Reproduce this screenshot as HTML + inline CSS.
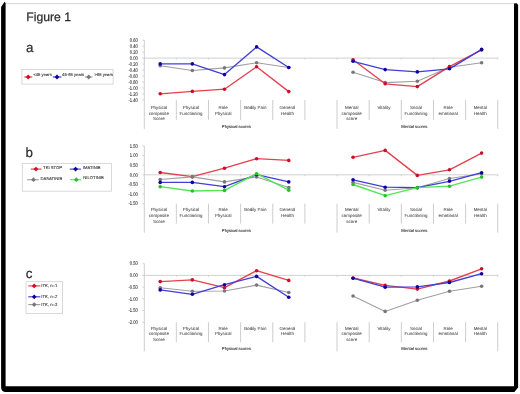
<!DOCTYPE html><html><head><meta charset="utf-8"><style>html,body{margin:0;padding:0;background:#fff;width:520px;height:394px;overflow:hidden}svg{display:block;filter:blur(0.5px)}text{font-family:"Liberation Sans", sans-serif;text-rendering:geometricPrecision} .t{stroke:#444;stroke-width:0.03px} .ty{stroke:#3a3a3a;stroke-width:0.9px} .tl{stroke:#333;stroke-width:0.1px}</style></head><body>
<svg width="520" height="394" viewBox="0 0 520 394">
<rect x="0" y="0" width="520" height="394" fill="#fff"/>
<line x1="6" y1="3.6" x2="515" y2="3.6" stroke="#d4d4d4" stroke-width="1"/>
<path d="M1.1,7 L4.6,1.8 L5.6,3 L5.6,386.3 L517,386.3 L518.1,387.6 L514.4,392 L5,392 Q1.1,391.6 1.1,387 Z" fill="#000"/>
<path d="M514.0,3.4 L516.8,3.2 L518.1,5 L518.1,388 L514.0,388 Z" fill="#000"/>
<text x="26.3" y="21.0" font-size="12.2" fill="#2c2c2c" stroke="#2c2c2c" stroke-width="0.25">Figure 1</text>
<text x="25.9" y="51.8" font-size="13.4" fill="#2c2c2c" stroke="#2c2c2c" stroke-width="0.2">a</text>
<text x="25.6" y="157.3" font-size="13.4" fill="#2c2c2c" stroke="#2c2c2c" stroke-width="0.2">b</text>
<text x="25.8" y="277.6" font-size="13.4" fill="#2c2c2c" stroke="#2c2c2c" stroke-width="0.2">c</text>
<line x1="144.3" y1="40.19" x2="144.3" y2="128.89" stroke="#c0c0c0" stroke-width="0.8"/>
<line x1="142.4" y1="40.19" x2="144.3" y2="40.19" stroke="#c0c0c0" stroke-width="0.7"/>
<text transform="translate(137.9,41.99) scale(0.1,0.128)" class="ty" text-anchor="end" font-size="41.5" fill="#383838">0.60</text>
<line x1="142.4" y1="46.16" x2="144.3" y2="46.16" stroke="#c0c0c0" stroke-width="0.7"/>
<text transform="translate(137.9,47.96) scale(0.1,0.128)" class="ty" text-anchor="end" font-size="41.5" fill="#383838">0.40</text>
<line x1="142.4" y1="52.13" x2="144.3" y2="52.13" stroke="#c0c0c0" stroke-width="0.7"/>
<text transform="translate(137.9,53.93) scale(0.1,0.128)" class="ty" text-anchor="end" font-size="41.5" fill="#383838">0.20</text>
<line x1="142.4" y1="58.10" x2="144.3" y2="58.10" stroke="#c0c0c0" stroke-width="0.7"/>
<text transform="translate(137.9,59.90) scale(0.1,0.128)" class="ty" text-anchor="end" font-size="41.5" fill="#383838">0.00</text>
<line x1="142.4" y1="64.07" x2="144.3" y2="64.07" stroke="#c0c0c0" stroke-width="0.7"/>
<text transform="translate(137.9,65.87) scale(0.1,0.128)" class="ty" text-anchor="end" font-size="41.5" fill="#383838">-0.20</text>
<line x1="142.4" y1="70.04" x2="144.3" y2="70.04" stroke="#c0c0c0" stroke-width="0.7"/>
<text transform="translate(137.9,71.84) scale(0.1,0.128)" class="ty" text-anchor="end" font-size="41.5" fill="#383838">-0.40</text>
<line x1="142.4" y1="76.01" x2="144.3" y2="76.01" stroke="#c0c0c0" stroke-width="0.7"/>
<text transform="translate(137.9,77.81) scale(0.1,0.128)" class="ty" text-anchor="end" font-size="41.5" fill="#383838">-0.60</text>
<line x1="142.4" y1="81.98" x2="144.3" y2="81.98" stroke="#c0c0c0" stroke-width="0.7"/>
<text transform="translate(137.9,83.78) scale(0.1,0.128)" class="ty" text-anchor="end" font-size="41.5" fill="#383838">-0.80</text>
<line x1="142.4" y1="87.95" x2="144.3" y2="87.95" stroke="#c0c0c0" stroke-width="0.7"/>
<text transform="translate(137.9,89.75) scale(0.1,0.128)" class="ty" text-anchor="end" font-size="41.5" fill="#383838">-1.00</text>
<line x1="142.4" y1="93.92" x2="144.3" y2="93.92" stroke="#c0c0c0" stroke-width="0.7"/>
<text transform="translate(137.9,95.72) scale(0.1,0.128)" class="ty" text-anchor="end" font-size="41.5" fill="#383838">-1.20</text>
<line x1="142.4" y1="99.89" x2="144.3" y2="99.89" stroke="#c0c0c0" stroke-width="0.7"/>
<text transform="translate(137.9,101.69) scale(0.1,0.128)" class="ty" text-anchor="end" font-size="41.5" fill="#383838">-1.40</text>
<line x1="144.3" y1="58.10" x2="498.2" y2="58.10" stroke="#c8c4c4" stroke-width="0.8"/>
<line x1="176.34" y1="58.10" x2="176.34" y2="59.60" stroke="#c8c4c4" stroke-width="0.7"/>
<line x1="208.48" y1="58.10" x2="208.48" y2="59.60" stroke="#c8c4c4" stroke-width="0.7"/>
<line x1="240.62" y1="58.10" x2="240.62" y2="59.60" stroke="#c8c4c4" stroke-width="0.7"/>
<line x1="272.76" y1="58.10" x2="272.76" y2="59.60" stroke="#c8c4c4" stroke-width="0.7"/>
<line x1="304.90" y1="58.10" x2="304.90" y2="59.60" stroke="#c8c4c4" stroke-width="0.7"/>
<line x1="337.04" y1="58.10" x2="337.04" y2="59.60" stroke="#c8c4c4" stroke-width="0.7"/>
<line x1="369.18" y1="58.10" x2="369.18" y2="59.60" stroke="#c8c4c4" stroke-width="0.7"/>
<line x1="401.32" y1="58.10" x2="401.32" y2="59.60" stroke="#c8c4c4" stroke-width="0.7"/>
<line x1="433.46" y1="58.10" x2="433.46" y2="59.60" stroke="#c8c4c4" stroke-width="0.7"/>
<line x1="465.60" y1="58.10" x2="465.60" y2="59.60" stroke="#c8c4c4" stroke-width="0.7"/>
<line x1="497.74" y1="58.10" x2="497.74" y2="59.60" stroke="#c8c4c4" stroke-width="0.7"/>
<line x1="176.34" y1="99.89" x2="176.34" y2="119.89" stroke="#c0c0c0" stroke-width="0.8"/>
<line x1="208.48" y1="99.89" x2="208.48" y2="119.89" stroke="#c0c0c0" stroke-width="0.8"/>
<line x1="240.62" y1="99.89" x2="240.62" y2="119.89" stroke="#c0c0c0" stroke-width="0.8"/>
<line x1="272.76" y1="99.89" x2="272.76" y2="119.89" stroke="#c0c0c0" stroke-width="0.8"/>
<line x1="304.90" y1="99.89" x2="304.90" y2="119.89" stroke="#c0c0c0" stroke-width="0.8"/>
<line x1="337.04" y1="99.89" x2="337.04" y2="128.89" stroke="#c0c0c0" stroke-width="0.8"/>
<line x1="369.18" y1="99.89" x2="369.18" y2="119.89" stroke="#c0c0c0" stroke-width="0.8"/>
<line x1="401.32" y1="99.89" x2="401.32" y2="119.89" stroke="#c0c0c0" stroke-width="0.8"/>
<line x1="433.46" y1="99.89" x2="433.46" y2="119.89" stroke="#c0c0c0" stroke-width="0.8"/>
<line x1="465.60" y1="99.89" x2="465.60" y2="119.89" stroke="#c0c0c0" stroke-width="0.8"/>
<line x1="497.74" y1="99.89" x2="497.74" y2="128.89" stroke="#c0c0c0" stroke-width="0.8"/>
<text x="158.90" y="109.19" class="t" text-anchor="middle" font-size="4.45" fill="#383838">Physical</text>
<text x="158.90" y="114.84" class="t" text-anchor="middle" font-size="4.45" fill="#383838">composite</text>
<text x="158.90" y="120.39" class="t" text-anchor="middle" font-size="4.45" fill="#383838">Score</text>
<text x="191.04" y="109.19" class="t" text-anchor="middle" font-size="4.45" fill="#383838">Physical</text>
<text x="191.04" y="114.84" class="t" text-anchor="middle" font-size="4.45" fill="#383838">Functioning</text>
<text x="223.18" y="109.19" class="t" text-anchor="middle" font-size="4.45" fill="#383838">Role</text>
<text x="223.18" y="114.84" class="t" text-anchor="middle" font-size="4.45" fill="#383838">Physical</text>
<text x="255.32" y="109.19" class="t" text-anchor="middle" font-size="4.45" fill="#383838">Bodily Pain</text>
<text x="287.46" y="109.19" class="t" text-anchor="middle" font-size="4.45" fill="#383838">General</text>
<text x="287.46" y="114.84" class="t" text-anchor="middle" font-size="4.45" fill="#383838">Health</text>
<text x="351.74" y="109.19" class="t" text-anchor="middle" font-size="4.45" fill="#383838">Mental</text>
<text x="351.74" y="114.84" class="t" text-anchor="middle" font-size="4.45" fill="#383838">composite</text>
<text x="351.74" y="120.39" class="t" text-anchor="middle" font-size="4.45" fill="#383838">score</text>
<text x="383.88" y="109.19" class="t" text-anchor="middle" font-size="4.45" fill="#383838">Vitality</text>
<text x="416.02" y="109.19" class="t" text-anchor="middle" font-size="4.45" fill="#383838">Social</text>
<text x="416.02" y="114.84" class="t" text-anchor="middle" font-size="4.45" fill="#383838">Functioning</text>
<text x="448.16" y="109.19" class="t" text-anchor="middle" font-size="4.45" fill="#383838">Role</text>
<text x="448.16" y="114.84" class="t" text-anchor="middle" font-size="4.45" fill="#383838">emotional</text>
<text x="480.30" y="109.19" class="t" text-anchor="middle" font-size="4.45" fill="#383838">Mental</text>
<text x="480.30" y="114.84" class="t" text-anchor="middle" font-size="4.45" fill="#383838">Health</text>
<text x="236.4" y="127.99" class="tl" text-anchor="middle" font-size="4.2" fill="#383838">Physical scores</text>
<text x="414.4" y="127.99" class="tl" text-anchor="middle" font-size="4.2" fill="#383838">Mental scores</text>
<polyline points="160.20,65.80 192.34,70.50 224.48,67.90 256.62,62.70 288.76,67.50" fill="none" stroke="#a0a0a0" stroke-width="1.1" stroke-linejoin="round"/>
<polyline points="353.04,72.20 385.18,82.60 417.32,81.20 449.46,67.30 481.60,62.70" fill="none" stroke="#a0a0a0" stroke-width="1.1" stroke-linejoin="round"/>
<circle cx="160.20" cy="65.80" r="1.8" fill="#787878"/>
<circle cx="192.34" cy="70.50" r="1.8" fill="#787878"/>
<circle cx="224.48" cy="67.90" r="1.8" fill="#787878"/>
<circle cx="256.62" cy="62.70" r="1.8" fill="#787878"/>
<circle cx="288.76" cy="67.50" r="1.8" fill="#787878"/>
<circle cx="353.04" cy="72.20" r="1.8" fill="#787878"/>
<circle cx="385.18" cy="82.60" r="1.8" fill="#787878"/>
<circle cx="417.32" cy="81.20" r="1.8" fill="#787878"/>
<circle cx="449.46" cy="67.30" r="1.8" fill="#787878"/>
<circle cx="481.60" cy="62.70" r="1.8" fill="#787878"/>
<polyline points="160.20,93.80 192.34,91.40 224.48,89.20 256.62,66.70 288.76,91.60" fill="none" stroke="#e4404e" stroke-width="1.35" stroke-linejoin="round"/>
<polyline points="353.04,59.70 385.18,83.80 417.32,86.60 449.46,66.60 481.60,49.90" fill="none" stroke="#e4404e" stroke-width="1.35" stroke-linejoin="round"/>
<circle cx="160.20" cy="93.80" r="1.8" fill="#c8102a"/>
<circle cx="192.34" cy="91.40" r="1.8" fill="#c8102a"/>
<circle cx="224.48" cy="89.20" r="1.8" fill="#c8102a"/>
<circle cx="256.62" cy="66.70" r="1.8" fill="#c8102a"/>
<circle cx="288.76" cy="91.60" r="1.8" fill="#c8102a"/>
<circle cx="353.04" cy="59.70" r="1.8" fill="#c8102a"/>
<circle cx="385.18" cy="83.80" r="1.8" fill="#c8102a"/>
<circle cx="417.32" cy="86.60" r="1.8" fill="#c8102a"/>
<circle cx="449.46" cy="66.60" r="1.8" fill="#c8102a"/>
<circle cx="481.60" cy="49.90" r="1.8" fill="#c8102a"/>
<polyline points="160.20,63.90 192.34,63.90 224.48,74.60 256.62,46.90 288.76,67.50" fill="none" stroke="#4040d8" stroke-width="1.35" stroke-linejoin="round"/>
<polyline points="353.04,61.30 385.18,69.60 417.32,71.90 449.46,68.80 481.60,49.40" fill="none" stroke="#4040d8" stroke-width="1.35" stroke-linejoin="round"/>
<circle cx="160.20" cy="63.90" r="1.8" fill="#10009c"/>
<circle cx="192.34" cy="63.90" r="1.8" fill="#10009c"/>
<circle cx="224.48" cy="74.60" r="1.8" fill="#10009c"/>
<circle cx="256.62" cy="46.90" r="1.8" fill="#10009c"/>
<circle cx="288.76" cy="67.50" r="1.8" fill="#10009c"/>
<circle cx="353.04" cy="61.30" r="1.8" fill="#10009c"/>
<circle cx="385.18" cy="69.60" r="1.8" fill="#10009c"/>
<circle cx="417.32" cy="71.90" r="1.8" fill="#10009c"/>
<circle cx="449.46" cy="68.80" r="1.8" fill="#10009c"/>
<circle cx="481.60" cy="49.40" r="1.8" fill="#10009c"/>
<rect x="21.9" y="69.5" width="91.2" height="14.6" fill="none" stroke="#d0d0d0" stroke-width="0.8"/>
<line x1="24.3" y1="77" x2="32.3" y2="77" stroke="#e4404e" stroke-width="1.15"/>
<path d="M25.8,77 L28.2,74.6 L30.599999999999998,77 L28.2,79.4 Z" fill="#c8102a"/>
<text class="tl" x="33.3" y="75.8" font-size="4.2" fill="#383838">&lt;45 years</text>
<line x1="52.8" y1="77" x2="61.4" y2="77" stroke="#4040d8" stroke-width="1.15"/>
<path d="M54.6,77 L57.0,74.6 L59.4,77 L57.0,79.4 Z" fill="#10009c"/>
<text class="tl" x="62.1" y="75.8" font-size="4.2" fill="#383838">45-65 years</text>
<line x1="84.8" y1="77" x2="92.5" y2="77" stroke="#a0a0a0" stroke-width="1.15"/>
<path d="M86.3,77 L88.7,74.6 L91.10000000000001,77 L88.7,79.4 Z" fill="#787878"/>
<text class="tl" x="94.4" y="75.8" font-size="4.2" fill="#383838">&gt;65 years</text>
<line x1="144.3" y1="145.94" x2="144.3" y2="232.66" stroke="#c0c0c0" stroke-width="0.8"/>
<line x1="142.4" y1="145.94" x2="144.3" y2="145.94" stroke="#c0c0c0" stroke-width="0.7"/>
<text transform="translate(137.9,147.74) scale(0.1,0.128)" class="ty" text-anchor="end" font-size="41.5" fill="#383838">1.50</text>
<line x1="142.4" y1="155.56" x2="144.3" y2="155.56" stroke="#c0c0c0" stroke-width="0.7"/>
<text transform="translate(137.9,157.36) scale(0.1,0.128)" class="ty" text-anchor="end" font-size="41.5" fill="#383838">1.00</text>
<line x1="142.4" y1="165.18" x2="144.3" y2="165.18" stroke="#c0c0c0" stroke-width="0.7"/>
<text transform="translate(137.9,166.98) scale(0.1,0.128)" class="ty" text-anchor="end" font-size="41.5" fill="#383838">0.50</text>
<line x1="142.4" y1="174.80" x2="144.3" y2="174.80" stroke="#c0c0c0" stroke-width="0.7"/>
<text transform="translate(137.9,176.60) scale(0.1,0.128)" class="ty" text-anchor="end" font-size="41.5" fill="#383838">0.00</text>
<line x1="142.4" y1="184.42" x2="144.3" y2="184.42" stroke="#c0c0c0" stroke-width="0.7"/>
<text transform="translate(137.9,186.22) scale(0.1,0.128)" class="ty" text-anchor="end" font-size="41.5" fill="#383838">-0.50</text>
<line x1="142.4" y1="194.04" x2="144.3" y2="194.04" stroke="#c0c0c0" stroke-width="0.7"/>
<text transform="translate(137.9,195.84) scale(0.1,0.128)" class="ty" text-anchor="end" font-size="41.5" fill="#383838">-1.00</text>
<line x1="142.4" y1="203.66" x2="144.3" y2="203.66" stroke="#c0c0c0" stroke-width="0.7"/>
<text transform="translate(137.9,205.46) scale(0.1,0.128)" class="ty" text-anchor="end" font-size="41.5" fill="#383838">-1.50</text>
<line x1="144.3" y1="174.80" x2="498.2" y2="174.80" stroke="#c8c4c4" stroke-width="0.8"/>
<line x1="176.34" y1="174.80" x2="176.34" y2="176.30" stroke="#c8c4c4" stroke-width="0.7"/>
<line x1="208.48" y1="174.80" x2="208.48" y2="176.30" stroke="#c8c4c4" stroke-width="0.7"/>
<line x1="240.62" y1="174.80" x2="240.62" y2="176.30" stroke="#c8c4c4" stroke-width="0.7"/>
<line x1="272.76" y1="174.80" x2="272.76" y2="176.30" stroke="#c8c4c4" stroke-width="0.7"/>
<line x1="304.90" y1="174.80" x2="304.90" y2="176.30" stroke="#c8c4c4" stroke-width="0.7"/>
<line x1="337.04" y1="174.80" x2="337.04" y2="176.30" stroke="#c8c4c4" stroke-width="0.7"/>
<line x1="369.18" y1="174.80" x2="369.18" y2="176.30" stroke="#c8c4c4" stroke-width="0.7"/>
<line x1="401.32" y1="174.80" x2="401.32" y2="176.30" stroke="#c8c4c4" stroke-width="0.7"/>
<line x1="433.46" y1="174.80" x2="433.46" y2="176.30" stroke="#c8c4c4" stroke-width="0.7"/>
<line x1="465.60" y1="174.80" x2="465.60" y2="176.30" stroke="#c8c4c4" stroke-width="0.7"/>
<line x1="497.74" y1="174.80" x2="497.74" y2="176.30" stroke="#c8c4c4" stroke-width="0.7"/>
<line x1="176.34" y1="203.66" x2="176.34" y2="223.66" stroke="#c0c0c0" stroke-width="0.8"/>
<line x1="208.48" y1="203.66" x2="208.48" y2="223.66" stroke="#c0c0c0" stroke-width="0.8"/>
<line x1="240.62" y1="203.66" x2="240.62" y2="223.66" stroke="#c0c0c0" stroke-width="0.8"/>
<line x1="272.76" y1="203.66" x2="272.76" y2="223.66" stroke="#c0c0c0" stroke-width="0.8"/>
<line x1="304.90" y1="203.66" x2="304.90" y2="223.66" stroke="#c0c0c0" stroke-width="0.8"/>
<line x1="337.04" y1="203.66" x2="337.04" y2="232.66" stroke="#c0c0c0" stroke-width="0.8"/>
<line x1="369.18" y1="203.66" x2="369.18" y2="223.66" stroke="#c0c0c0" stroke-width="0.8"/>
<line x1="401.32" y1="203.66" x2="401.32" y2="223.66" stroke="#c0c0c0" stroke-width="0.8"/>
<line x1="433.46" y1="203.66" x2="433.46" y2="223.66" stroke="#c0c0c0" stroke-width="0.8"/>
<line x1="465.60" y1="203.66" x2="465.60" y2="223.66" stroke="#c0c0c0" stroke-width="0.8"/>
<line x1="497.74" y1="203.66" x2="497.74" y2="232.66" stroke="#c0c0c0" stroke-width="0.8"/>
<text x="158.90" y="211.36" class="t" text-anchor="middle" font-size="4.45" fill="#383838">Physical</text>
<text x="158.90" y="217.01" class="t" text-anchor="middle" font-size="4.45" fill="#383838">composite</text>
<text x="158.90" y="222.56" class="t" text-anchor="middle" font-size="4.45" fill="#383838">Score</text>
<text x="191.04" y="211.36" class="t" text-anchor="middle" font-size="4.45" fill="#383838">Physical</text>
<text x="191.04" y="217.01" class="t" text-anchor="middle" font-size="4.45" fill="#383838">Functioning</text>
<text x="223.18" y="211.36" class="t" text-anchor="middle" font-size="4.45" fill="#383838">Role</text>
<text x="223.18" y="217.01" class="t" text-anchor="middle" font-size="4.45" fill="#383838">Physical</text>
<text x="255.32" y="211.36" class="t" text-anchor="middle" font-size="4.45" fill="#383838">Bodily Pain</text>
<text x="287.46" y="211.36" class="t" text-anchor="middle" font-size="4.45" fill="#383838">General</text>
<text x="287.46" y="217.01" class="t" text-anchor="middle" font-size="4.45" fill="#383838">Health</text>
<text x="351.74" y="211.36" class="t" text-anchor="middle" font-size="4.45" fill="#383838">Mental</text>
<text x="351.74" y="217.01" class="t" text-anchor="middle" font-size="4.45" fill="#383838">composite</text>
<text x="351.74" y="222.56" class="t" text-anchor="middle" font-size="4.45" fill="#383838">score</text>
<text x="383.88" y="211.36" class="t" text-anchor="middle" font-size="4.45" fill="#383838">Vitality</text>
<text x="416.02" y="211.36" class="t" text-anchor="middle" font-size="4.45" fill="#383838">Social</text>
<text x="416.02" y="217.01" class="t" text-anchor="middle" font-size="4.45" fill="#383838">Functioning</text>
<text x="448.16" y="211.36" class="t" text-anchor="middle" font-size="4.45" fill="#383838">Role</text>
<text x="448.16" y="217.01" class="t" text-anchor="middle" font-size="4.45" fill="#383838">emotional</text>
<text x="480.30" y="211.36" class="t" text-anchor="middle" font-size="4.45" fill="#383838">Mental</text>
<text x="480.30" y="217.01" class="t" text-anchor="middle" font-size="4.45" fill="#383838">Health</text>
<text x="236.4" y="231.76" class="tl" text-anchor="middle" font-size="4.2" fill="#383838">Physical scores</text>
<text x="414.4" y="231.76" class="tl" text-anchor="middle" font-size="4.2" fill="#383838">Mental scores</text>
<polyline points="160.20,172.50 192.34,176.70 224.48,168.20 256.62,158.70 288.76,160.40" fill="none" stroke="#e4404e" stroke-width="1.35" stroke-linejoin="round"/>
<polyline points="353.04,157.30 385.18,150.40 417.32,175.40 449.46,169.80 481.60,153.10" fill="none" stroke="#e4404e" stroke-width="1.35" stroke-linejoin="round"/>
<circle cx="160.20" cy="172.50" r="1.8" fill="#c8102a"/>
<circle cx="192.34" cy="176.70" r="1.8" fill="#c8102a"/>
<circle cx="224.48" cy="168.20" r="1.8" fill="#c8102a"/>
<circle cx="256.62" cy="158.70" r="1.8" fill="#c8102a"/>
<circle cx="288.76" cy="160.40" r="1.8" fill="#c8102a"/>
<circle cx="353.04" cy="157.30" r="1.8" fill="#c8102a"/>
<circle cx="385.18" cy="150.40" r="1.8" fill="#c8102a"/>
<circle cx="417.32" cy="175.40" r="1.8" fill="#c8102a"/>
<circle cx="449.46" cy="169.80" r="1.8" fill="#c8102a"/>
<circle cx="481.60" cy="153.10" r="1.8" fill="#c8102a"/>
<polyline points="160.20,179.50 192.34,176.90 224.48,181.90 256.62,176.90 288.76,187.60" fill="none" stroke="#a0a0a0" stroke-width="1.1" stroke-linejoin="round"/>
<polyline points="353.04,182.40 385.18,190.20 417.32,187.70 449.46,178.50 481.60,173.70" fill="none" stroke="#a0a0a0" stroke-width="1.1" stroke-linejoin="round"/>
<circle cx="160.20" cy="179.50" r="1.8" fill="#787878"/>
<circle cx="192.34" cy="176.90" r="1.8" fill="#787878"/>
<circle cx="224.48" cy="181.90" r="1.8" fill="#787878"/>
<circle cx="256.62" cy="176.90" r="1.8" fill="#787878"/>
<circle cx="288.76" cy="187.60" r="1.8" fill="#787878"/>
<circle cx="353.04" cy="182.40" r="1.8" fill="#787878"/>
<circle cx="385.18" cy="190.20" r="1.8" fill="#787878"/>
<circle cx="417.32" cy="187.70" r="1.8" fill="#787878"/>
<circle cx="449.46" cy="178.50" r="1.8" fill="#787878"/>
<circle cx="481.60" cy="173.70" r="1.8" fill="#787878"/>
<polyline points="160.20,182.40 192.34,182.40 224.48,186.70 256.62,174.60 288.76,181.90" fill="none" stroke="#4040d8" stroke-width="1.35" stroke-linejoin="round"/>
<polyline points="353.04,179.80 385.18,187.20 417.32,187.70 449.46,181.30 481.60,172.70" fill="none" stroke="#4040d8" stroke-width="1.35" stroke-linejoin="round"/>
<circle cx="160.20" cy="182.40" r="1.8" fill="#10009c"/>
<circle cx="192.34" cy="182.40" r="1.8" fill="#10009c"/>
<circle cx="224.48" cy="186.70" r="1.8" fill="#10009c"/>
<circle cx="256.62" cy="174.60" r="1.8" fill="#10009c"/>
<circle cx="288.76" cy="181.90" r="1.8" fill="#10009c"/>
<circle cx="353.04" cy="179.80" r="1.8" fill="#10009c"/>
<circle cx="385.18" cy="187.20" r="1.8" fill="#10009c"/>
<circle cx="417.32" cy="187.70" r="1.8" fill="#10009c"/>
<circle cx="449.46" cy="181.30" r="1.8" fill="#10009c"/>
<circle cx="481.60" cy="172.70" r="1.8" fill="#10009c"/>
<polyline points="160.20,186.70 192.34,191.00 224.48,190.40 256.62,173.70 288.76,190.20" fill="none" stroke="#50e850" stroke-width="1.35" stroke-linejoin="round"/>
<polyline points="353.04,184.50 385.18,195.70 417.32,187.60 449.46,186.20 481.60,177.10" fill="none" stroke="#50e850" stroke-width="1.35" stroke-linejoin="round"/>
<circle cx="160.20" cy="186.70" r="1.8" fill="#28c028"/>
<circle cx="192.34" cy="191.00" r="1.8" fill="#28c028"/>
<circle cx="224.48" cy="190.40" r="1.8" fill="#28c028"/>
<circle cx="256.62" cy="173.70" r="1.8" fill="#28c028"/>
<circle cx="288.76" cy="190.20" r="1.8" fill="#28c028"/>
<circle cx="353.04" cy="184.50" r="1.8" fill="#28c028"/>
<circle cx="385.18" cy="195.70" r="1.8" fill="#28c028"/>
<circle cx="417.32" cy="187.60" r="1.8" fill="#28c028"/>
<circle cx="449.46" cy="186.20" r="1.8" fill="#28c028"/>
<circle cx="481.60" cy="177.10" r="1.8" fill="#28c028"/>
<rect x="22.3" y="163.5" width="89.2" height="27.7" fill="none" stroke="#d0d0d0" stroke-width="0.8"/>
<line x1="30.8" y1="169.1" x2="41.6" y2="169.1" stroke="#e4404e" stroke-width="1.15"/>
<path d="M33.5,169.1 L35.9,166.7 L38.3,169.1 L35.9,171.5 Z" fill="#c8102a"/>
<text class="tl" x="43.1" y="169.3" font-size="4.2" fill="#383838">TKI STOP</text>
<line x1="69.8" y1="169.1" x2="80.9" y2="169.1" stroke="#4040d8" stroke-width="1.15"/>
<path d="M73.19999999999999,169.1 L75.6,166.7 L78.0,169.1 L75.6,171.5 Z" fill="#10009c"/>
<text class="tl" x="82.8" y="169.3" font-size="4.2" fill="#383838">IMATINIB</text>
<line x1="27.2" y1="179.7" x2="38.8" y2="179.7" stroke="#a0a0a0" stroke-width="1.15"/>
<path d="M31.1,179.7 L33.5,177.29999999999998 L35.9,179.7 L33.5,182.1 Z" fill="#787878"/>
<text class="tl" x="40.4" y="179.5" font-size="4.2" fill="#383838">DASATINIB</text>
<line x1="70.3" y1="179.7" x2="81.3" y2="179.7" stroke="#50e850" stroke-width="1.15"/>
<path d="M73.89999999999999,179.7 L76.3,177.29999999999998 L78.7,179.7 L76.3,182.1 Z" fill="#28c028"/>
<text class="tl" x="83.3" y="179.3" font-size="4.2" fill="#383838">NILOTINIB</text>
<line x1="144.3" y1="263.68" x2="144.3" y2="351.28" stroke="#c0c0c0" stroke-width="0.8"/>
<line x1="142.4" y1="263.68" x2="144.3" y2="263.68" stroke="#c0c0c0" stroke-width="0.7"/>
<text transform="translate(137.9,265.48) scale(0.1,0.128)" class="ty" text-anchor="end" font-size="41.5" fill="#383838">0.50</text>
<line x1="142.4" y1="275.40" x2="144.3" y2="275.40" stroke="#c0c0c0" stroke-width="0.7"/>
<text transform="translate(137.9,277.20) scale(0.1,0.128)" class="ty" text-anchor="end" font-size="41.5" fill="#383838">0.00</text>
<line x1="142.4" y1="287.12" x2="144.3" y2="287.12" stroke="#c0c0c0" stroke-width="0.7"/>
<text transform="translate(137.9,288.92) scale(0.1,0.128)" class="ty" text-anchor="end" font-size="41.5" fill="#383838">-0.50</text>
<line x1="142.4" y1="298.84" x2="144.3" y2="298.84" stroke="#c0c0c0" stroke-width="0.7"/>
<text transform="translate(137.9,300.64) scale(0.1,0.128)" class="ty" text-anchor="end" font-size="41.5" fill="#383838">-1.00</text>
<line x1="142.4" y1="310.56" x2="144.3" y2="310.56" stroke="#c0c0c0" stroke-width="0.7"/>
<text transform="translate(137.9,312.36) scale(0.1,0.128)" class="ty" text-anchor="end" font-size="41.5" fill="#383838">-1.50</text>
<line x1="142.4" y1="322.28" x2="144.3" y2="322.28" stroke="#c0c0c0" stroke-width="0.7"/>
<text transform="translate(137.9,324.08) scale(0.1,0.128)" class="ty" text-anchor="end" font-size="41.5" fill="#383838">-2.00</text>
<line x1="144.3" y1="275.40" x2="498.2" y2="275.40" stroke="#c8c4c4" stroke-width="0.8"/>
<line x1="176.34" y1="275.40" x2="176.34" y2="276.90" stroke="#c8c4c4" stroke-width="0.7"/>
<line x1="208.48" y1="275.40" x2="208.48" y2="276.90" stroke="#c8c4c4" stroke-width="0.7"/>
<line x1="240.62" y1="275.40" x2="240.62" y2="276.90" stroke="#c8c4c4" stroke-width="0.7"/>
<line x1="272.76" y1="275.40" x2="272.76" y2="276.90" stroke="#c8c4c4" stroke-width="0.7"/>
<line x1="304.90" y1="275.40" x2="304.90" y2="276.90" stroke="#c8c4c4" stroke-width="0.7"/>
<line x1="337.04" y1="275.40" x2="337.04" y2="276.90" stroke="#c8c4c4" stroke-width="0.7"/>
<line x1="369.18" y1="275.40" x2="369.18" y2="276.90" stroke="#c8c4c4" stroke-width="0.7"/>
<line x1="401.32" y1="275.40" x2="401.32" y2="276.90" stroke="#c8c4c4" stroke-width="0.7"/>
<line x1="433.46" y1="275.40" x2="433.46" y2="276.90" stroke="#c8c4c4" stroke-width="0.7"/>
<line x1="465.60" y1="275.40" x2="465.60" y2="276.90" stroke="#c8c4c4" stroke-width="0.7"/>
<line x1="497.74" y1="275.40" x2="497.74" y2="276.90" stroke="#c8c4c4" stroke-width="0.7"/>
<line x1="176.34" y1="322.28" x2="176.34" y2="342.28" stroke="#c0c0c0" stroke-width="0.8"/>
<line x1="208.48" y1="322.28" x2="208.48" y2="342.28" stroke="#c0c0c0" stroke-width="0.8"/>
<line x1="240.62" y1="322.28" x2="240.62" y2="342.28" stroke="#c0c0c0" stroke-width="0.8"/>
<line x1="272.76" y1="322.28" x2="272.76" y2="342.28" stroke="#c0c0c0" stroke-width="0.8"/>
<line x1="304.90" y1="322.28" x2="304.90" y2="342.28" stroke="#c0c0c0" stroke-width="0.8"/>
<line x1="337.04" y1="322.28" x2="337.04" y2="351.28" stroke="#c0c0c0" stroke-width="0.8"/>
<line x1="369.18" y1="322.28" x2="369.18" y2="342.28" stroke="#c0c0c0" stroke-width="0.8"/>
<line x1="401.32" y1="322.28" x2="401.32" y2="342.28" stroke="#c0c0c0" stroke-width="0.8"/>
<line x1="433.46" y1="322.28" x2="433.46" y2="342.28" stroke="#c0c0c0" stroke-width="0.8"/>
<line x1="465.60" y1="322.28" x2="465.60" y2="342.28" stroke="#c0c0c0" stroke-width="0.8"/>
<line x1="497.74" y1="322.28" x2="497.74" y2="351.28" stroke="#c0c0c0" stroke-width="0.8"/>
<text x="158.90" y="329.58" class="t" text-anchor="middle" font-size="4.45" fill="#383838">Physical</text>
<text x="158.90" y="335.23" class="t" text-anchor="middle" font-size="4.45" fill="#383838">composite</text>
<text x="158.90" y="340.78" class="t" text-anchor="middle" font-size="4.45" fill="#383838">Score</text>
<text x="191.04" y="329.58" class="t" text-anchor="middle" font-size="4.45" fill="#383838">Physical</text>
<text x="191.04" y="335.23" class="t" text-anchor="middle" font-size="4.45" fill="#383838">Functioning</text>
<text x="223.18" y="329.58" class="t" text-anchor="middle" font-size="4.45" fill="#383838">Role</text>
<text x="223.18" y="335.23" class="t" text-anchor="middle" font-size="4.45" fill="#383838">Physical</text>
<text x="255.32" y="329.58" class="t" text-anchor="middle" font-size="4.45" fill="#383838">Bodily Pain</text>
<text x="287.46" y="329.58" class="t" text-anchor="middle" font-size="4.45" fill="#383838">General</text>
<text x="287.46" y="335.23" class="t" text-anchor="middle" font-size="4.45" fill="#383838">Health</text>
<text x="351.74" y="329.58" class="t" text-anchor="middle" font-size="4.45" fill="#383838">Mental</text>
<text x="351.74" y="335.23" class="t" text-anchor="middle" font-size="4.45" fill="#383838">composite</text>
<text x="351.74" y="340.78" class="t" text-anchor="middle" font-size="4.45" fill="#383838">score</text>
<text x="383.88" y="329.58" class="t" text-anchor="middle" font-size="4.45" fill="#383838">Vitality</text>
<text x="416.02" y="329.58" class="t" text-anchor="middle" font-size="4.45" fill="#383838">Social</text>
<text x="416.02" y="335.23" class="t" text-anchor="middle" font-size="4.45" fill="#383838">Functioning</text>
<text x="448.16" y="329.58" class="t" text-anchor="middle" font-size="4.45" fill="#383838">Role</text>
<text x="448.16" y="335.23" class="t" text-anchor="middle" font-size="4.45" fill="#383838">emotional</text>
<text x="480.30" y="329.58" class="t" text-anchor="middle" font-size="4.45" fill="#383838">Mental</text>
<text x="480.30" y="335.23" class="t" text-anchor="middle" font-size="4.45" fill="#383838">Health</text>
<text x="236.4" y="349.78" class="tl" text-anchor="middle" font-size="4.2" fill="#383838">Physical scores</text>
<text x="414.4" y="349.78" class="tl" text-anchor="middle" font-size="4.2" fill="#383838">Mental scores</text>
<polyline points="160.20,287.70 192.34,291.20 224.48,291.00 256.62,285.10 288.76,292.50" fill="none" stroke="#a0a0a0" stroke-width="1.1" stroke-linejoin="round"/>
<polyline points="353.04,296.00 385.18,311.40 417.32,300.20 449.46,291.20 481.60,286.20" fill="none" stroke="#a0a0a0" stroke-width="1.1" stroke-linejoin="round"/>
<circle cx="160.20" cy="287.70" r="1.8" fill="#787878"/>
<circle cx="192.34" cy="291.20" r="1.8" fill="#787878"/>
<circle cx="224.48" cy="291.00" r="1.8" fill="#787878"/>
<circle cx="256.62" cy="285.10" r="1.8" fill="#787878"/>
<circle cx="288.76" cy="292.50" r="1.8" fill="#787878"/>
<circle cx="353.04" cy="296.00" r="1.8" fill="#787878"/>
<circle cx="385.18" cy="311.40" r="1.8" fill="#787878"/>
<circle cx="417.32" cy="300.20" r="1.8" fill="#787878"/>
<circle cx="449.46" cy="291.20" r="1.8" fill="#787878"/>
<circle cx="481.60" cy="286.20" r="1.8" fill="#787878"/>
<polyline points="160.20,281.60 192.34,279.90 224.48,287.70 256.62,270.70 288.76,280.40" fill="none" stroke="#e4404e" stroke-width="1.35" stroke-linejoin="round"/>
<polyline points="353.04,278.00 385.18,285.40 417.32,289.10 449.46,281.00 481.60,268.80" fill="none" stroke="#e4404e" stroke-width="1.35" stroke-linejoin="round"/>
<circle cx="160.20" cy="281.60" r="1.8" fill="#c8102a"/>
<circle cx="192.34" cy="279.90" r="1.8" fill="#c8102a"/>
<circle cx="224.48" cy="287.70" r="1.8" fill="#c8102a"/>
<circle cx="256.62" cy="270.70" r="1.8" fill="#c8102a"/>
<circle cx="288.76" cy="280.40" r="1.8" fill="#c8102a"/>
<circle cx="353.04" cy="278.00" r="1.8" fill="#c8102a"/>
<circle cx="385.18" cy="285.40" r="1.8" fill="#c8102a"/>
<circle cx="417.32" cy="289.10" r="1.8" fill="#c8102a"/>
<circle cx="449.46" cy="281.00" r="1.8" fill="#c8102a"/>
<circle cx="481.60" cy="268.80" r="1.8" fill="#c8102a"/>
<polyline points="160.20,289.90 192.34,294.30 224.48,284.70 256.62,276.40 288.76,297.20" fill="none" stroke="#4040d8" stroke-width="1.35" stroke-linejoin="round"/>
<polyline points="353.04,278.20 385.18,287.20 417.32,286.90 449.46,282.50 481.60,273.70" fill="none" stroke="#4040d8" stroke-width="1.35" stroke-linejoin="round"/>
<circle cx="160.20" cy="289.90" r="1.8" fill="#10009c"/>
<circle cx="192.34" cy="294.30" r="1.8" fill="#10009c"/>
<circle cx="224.48" cy="284.70" r="1.8" fill="#10009c"/>
<circle cx="256.62" cy="276.40" r="1.8" fill="#10009c"/>
<circle cx="288.76" cy="297.20" r="1.8" fill="#10009c"/>
<circle cx="353.04" cy="278.20" r="1.8" fill="#10009c"/>
<circle cx="385.18" cy="287.20" r="1.8" fill="#10009c"/>
<circle cx="417.32" cy="286.90" r="1.8" fill="#10009c"/>
<circle cx="449.46" cy="282.50" r="1.8" fill="#10009c"/>
<circle cx="481.60" cy="273.70" r="1.8" fill="#10009c"/>
<rect x="26" y="281.7" width="36.6" height="31.9" fill="none" stroke="#d0d0d0" stroke-width="0.8"/>
<line x1="28.3" y1="285.9" x2="40.3" y2="285.9" stroke="#e4404e" stroke-width="1.15"/>
<path d="M31.800000000000004,285.9 L34.2,283.5 L36.6,285.9 L34.2,288.29999999999995 Z" fill="#c8102a"/>
<text class="tl" x="41.3" y="287.3" font-size="4.2" fill="#383838">ITK, n=1</text>
<line x1="28.3" y1="296.8" x2="40.3" y2="296.8" stroke="#4040d8" stroke-width="1.15"/>
<path d="M31.800000000000004,296.8 L34.2,294.40000000000003 L36.6,296.8 L34.2,299.2 Z" fill="#10009c"/>
<text class="tl" x="41.3" y="298.2" font-size="4.2" fill="#383838">ITK, n=2</text>
<line x1="28.3" y1="304.6" x2="40.3" y2="304.6" stroke="#a0a0a0" stroke-width="1.15"/>
<path d="M31.800000000000004,304.6 L34.2,302.20000000000005 L36.6,304.6 L34.2,307.0 Z" fill="#787878"/>
<text class="tl" x="41.3" y="306.0" font-size="4.2" fill="#383838">ITK, n=3</text>
</svg></body></html>
